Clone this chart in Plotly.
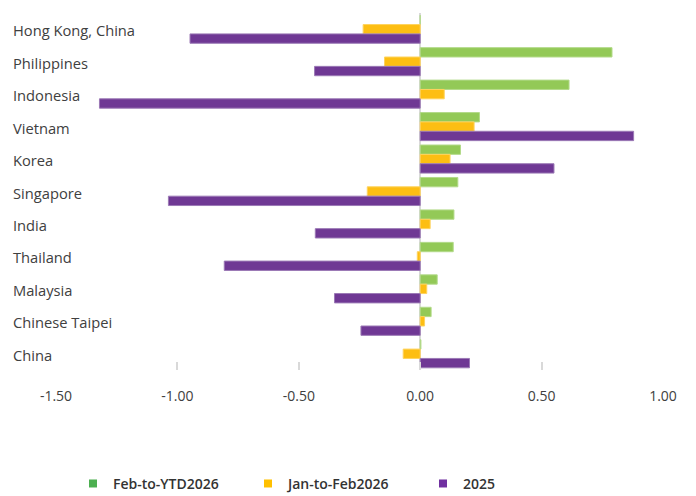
import plotly.graph_objects as go

# Economies, listed top to bottom
economies = ["Hong Kong, China", "Philippines", "Indonesia", "Vietnam", "Korea",
             "Singapore", "India", "Thailand", "Malaysia", "Chinese Taipei", "China"]

# Series values
feb_to_ytd_2026 = [0.0, 0.79, 0.613, 0.244, 0.166, 0.155, 0.139, 0.136, 0.07, 0.045, 0.003]
jan_to_feb_2026 = [-0.235, -0.147, 0.099, 0.222, 0.123, -0.218, 0.041, -0.012, 0.027, 0.018, -0.07]
year_2025 = [-0.948, -0.435, -1.321, 0.879, 0.551, -1.037, -0.432, -0.807, -0.353, -0.244, 0.203]

series_names = ["Feb-to-YTD2026", "Jan-to-Feb2026", "2025"]
tick_values = [-1.5, -1.0, -0.5, 0.0, 0.5, 1.0]
tick_labels = ["-1.50", "-1.00", "-0.50", "0.00", "0.50", "1.00"]

bar_fill = ["#93c957", "#fdbe13", "#6f3894"]
bar_edge = ["#b3da8a", "#fed35e", "#9b79b5"]
legend_fill = ["#4caf50", "#ffc000", "#7030a0"]

text_color = "#404040"
font_family = "Open Sans, sans-serif"

fig = go.Figure()

for name, vals, fill, edge in zip(series_names,
                                  [feb_to_ytd_2026, jan_to_feb_2026, year_2025],
                                  bar_fill, bar_edge):
    fig.add_trace(go.Bar(
        y=economies, x=vals, orientation="h", name=name,
        marker=dict(color=fill, line=dict(color=edge, width=1)),
        showlegend=False, hoverinfo="x+y+name",
    ))

# Legend entries with small square swatches
for name, col in zip(series_names, legend_fill):
    fig.add_trace(go.Scatter(
        x=[None], y=[None], mode="markers", name=name,
        marker=dict(symbol="square", size=8, color=col),
    ))

# Category labels, left-aligned at the chart edge
for e in economies:
    fig.add_annotation(
        x=-0.0741, xref="paper", y=e, yref="y", yshift=-1, text=e, showarrow=False,
        xanchor="left", yanchor="middle",
        font=dict(family=font_family, size=14.7, color=text_color),
    )

fig.update_layout(
    width=696, height=496,
    margin=dict(l=56, r=33, t=13, b=126, autoexpand=False),
    paper_bgcolor="white", plot_bgcolor="white",
    barmode="group", bargap=0.135, bargroupgap=0,
    font=dict(family=font_family, size=13, color=text_color),
    xaxis=dict(
        range=[-1.5, 1.0], tickvals=tick_values, ticktext=tick_labels,
        showgrid=False, showline=False,
        zeroline=True, zerolinecolor="#d9d9d9", zerolinewidth=2,
        ticks="inside", ticklen=8, tickwidth=2, tickcolor="#d9d9d9",
        ticklabelstandoff=16,
        tickfont=dict(family=font_family, size=14, color=text_color),
    ),
    yaxis=dict(
        autorange="reversed", showticklabels=False, showgrid=False,
        showline=False, zeroline=False, ticks="",
    ),
    legend=dict(
        orientation="h", x=0.028, xanchor="left", y=-0.319, yanchor="middle",
        entrywidth=130, entrywidthmode="pixels", itemwidth=30,
        font=dict(family=font_family, size=14, color="#333333", weight=600),
        bgcolor="rgba(0,0,0,0)",
    ),
)

fig.write_html("out.html")
